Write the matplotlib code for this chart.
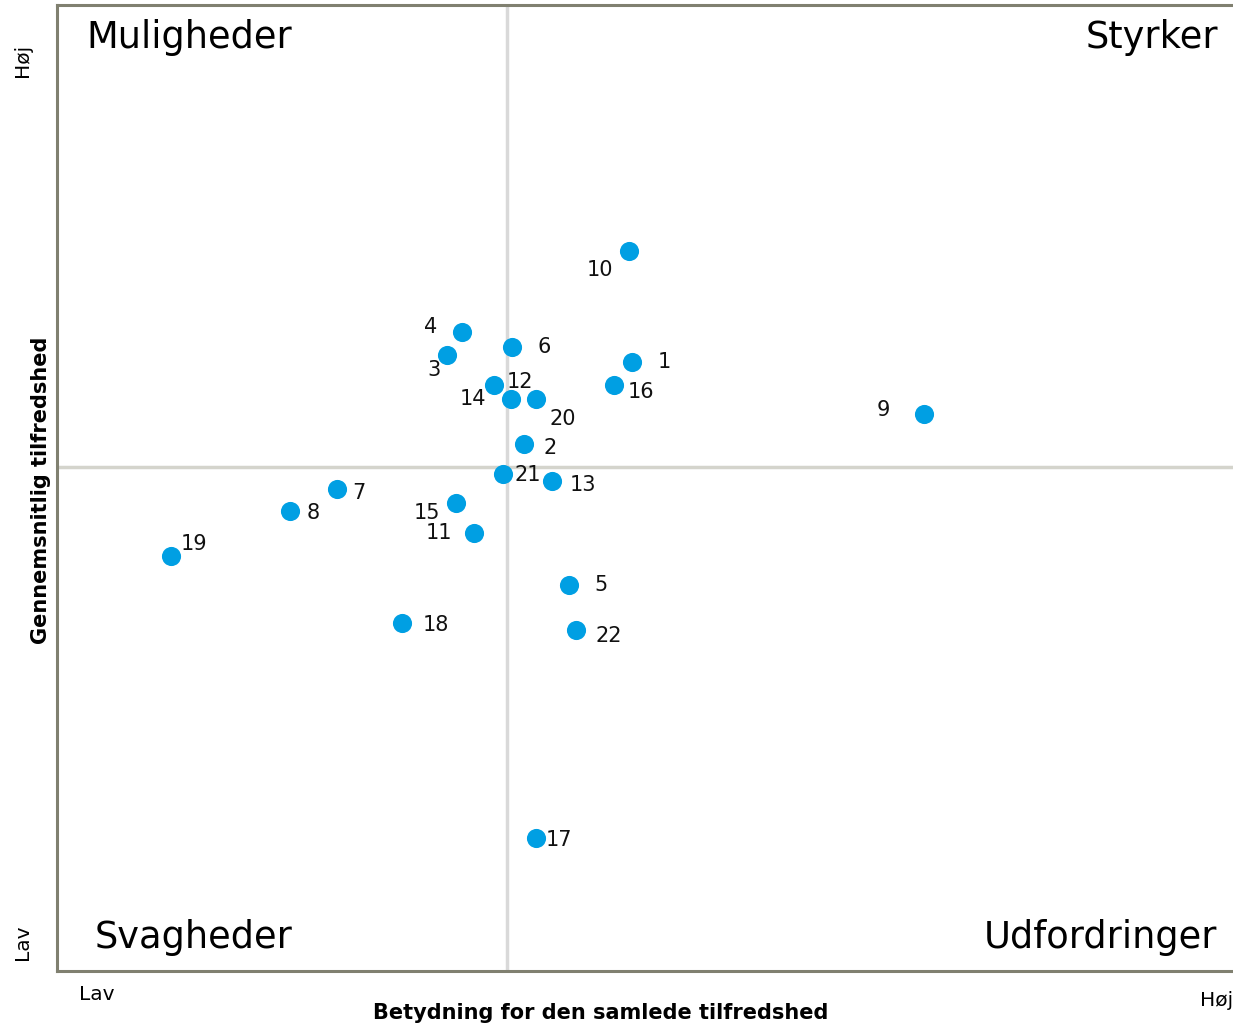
import matplotlib.pyplot as plt

# importance (x) and average satisfaction (y), both on a 0-100 scale
ids = ['1', '2', '3', '4', '5', '6', '7', '8', '9', '10', '11',
       '12', '13', '14', '15', '16', '17', '18', '19', '20', '21', '22']
importance = [48.9, 39.7, 33.2, 34.4, 43.5, 38.7, 23.8, 19.8, 73.7, 48.6, 35.5,
              37.2, 42.1, 38.6, 33.9, 47.4, 40.7, 29.3, 9.7, 40.7, 37.9, 44.1]
satisfaction = [63.0, 54.6, 63.8, 66.1, 40.0, 64.6, 49.9, 47.6, 57.7, 74.5, 45.3,
                60.7, 50.7, 59.2, 48.4, 60.7, 13.8, 36.0, 43.0, 59.2, 51.4, 35.3]
x_split = 38.3
y_split = 52.2

# label offsets in pixels (dx right, dy down)
offsets = {
    '1': (32, 0), '2': (26, 4), '3': (-13, 15), '4': (-31, -5), '5': (32, 0),
    '6': (32, 0), '7': (22, 4), '8': (23, 2), '9': (-40, -4), '10': (-29, 19),
    '11': (-36, 0), '12': (25, -3), '13': (31, 4), '14': (-38, 0), '15': (-29, 10),
    '16': (27, 7), '17': (23, 2), '18': (34, 2), '19': (23, -12), '20': (27, 20),
    '21': (25, 1), '22': (33, 6),
}

W, H = 1233, 1026
fig = plt.figure(figsize=(W / 100, H / 100), dpi=100)
ax = fig.add_axes([57 / W, (H - 971) / H, 1176 / W, 966 / H])
ax.set_xlim(0, 100)
ax.set_ylim(0, 100)
ax.set_xticks([])
ax.set_yticks([])

for side in ['left', 'top', 'bottom']:
    ax.spines[side].set_color('#808070')
    ax.spines[side].set_linewidth(2.2)
ax.spines['right'].set_visible(False)

ax.axvline(x_split, color='#d9d9d9', lw=2.5, zorder=1)
ax.axhline(y_split, color='#d4d4cc', lw=2.5, zorder=1)

ax.scatter(importance, satisfaction, s=190, color='#009fe3', zorder=3, linewidths=0)
for name, xv, yv in zip(ids, importance, satisfaction):
    dx, dy = offsets[name]
    ax.annotate(name, (xv, yv), xytext=(dx * 0.72, -dy * 0.72), textcoords='offset points',
                ha='center', va='center', fontsize=15, color='#111111', zorder=4)


def ax_px(px, py):
    return (px - 57) / 1176, (971 - py) / 966


# quadrant names
qfs = 26.5
ax.text(*ax_px(86, 37), 'Muligheder', transform=ax.transAxes, fontsize=qfs, ha='left', va='center')
ax.text(*ax_px(1218, 37), 'Styrker', transform=ax.transAxes, fontsize=qfs, ha='right', va='center')
ax.text(*ax_px(95, 937), 'Svagheder', transform=ax.transAxes, fontsize=qfs, ha='left', va='center')
ax.text(*ax_px(1217, 937), 'Udfordringer', transform=ax.transAxes, fontsize=qfs, ha='right', va='center')

# axis titles and low/high markers
fig.text(601 / W, 1 - 1013 / H, 'Betydning for den samlede tilfredshed',
         ha='center', va='center', fontsize=15, fontweight='bold')
fig.text(41 / W, 1 - 490 / H, 'Gennemsnitlig tilfredshed', rotation=90,
         ha='center', va='center', fontsize=15, fontweight='bold')
fig.text(97 / W, 1 - 994 / H, 'Lav', ha='center', va='center', fontsize=14.5)
fig.text(1200 / W, 1 - 1000 / H, 'Høj', ha='left', va='center', fontsize=14.5)
fig.text(23 / W, 1 - 60 / H, 'Høj', rotation=90, ha='center', va='center', fontsize=14.5)
fig.text(22 / W, 1 - 942 / H, 'Lav', rotation=90, ha='center', va='center', fontsize=14.5)

fig.savefig('out.png', dpi=100)
